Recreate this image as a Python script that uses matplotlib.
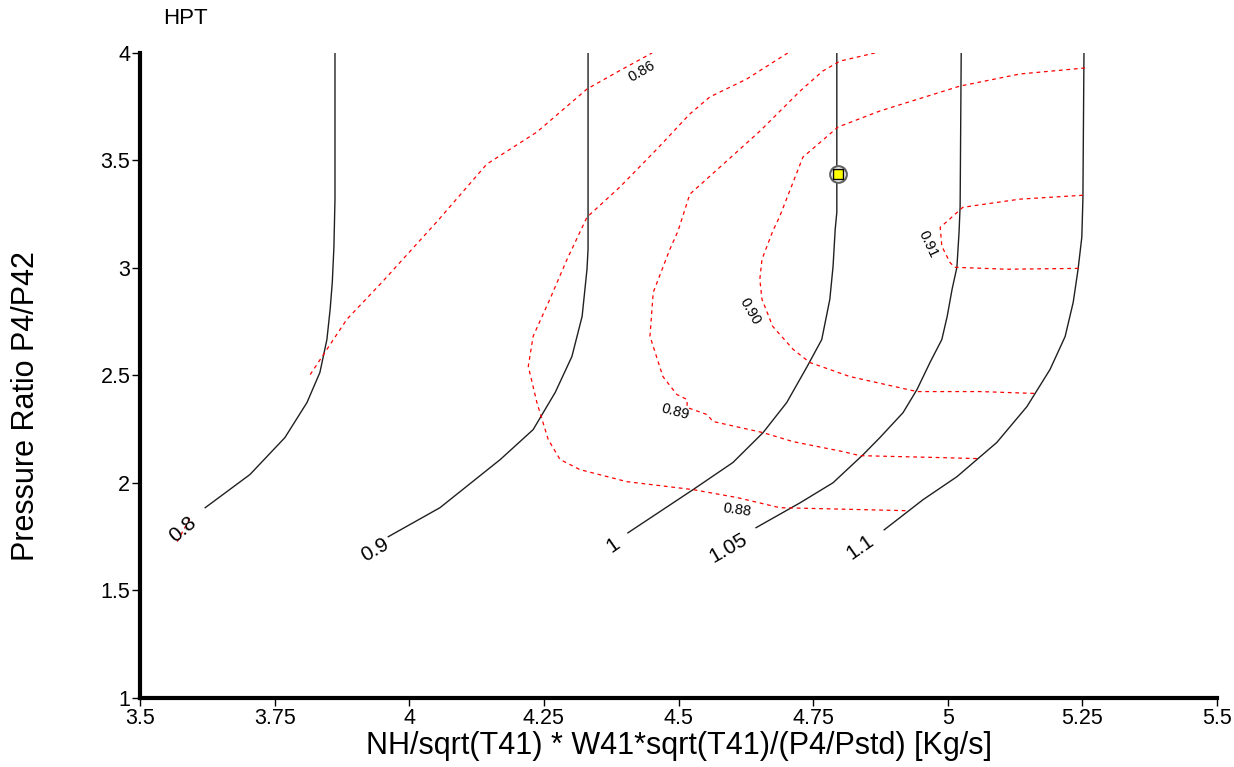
import matplotlib
matplotlib.use("Agg")
import matplotlib.pyplot as plt

plt.rcParams['font.family'] = ['Liberation Sans', 'DejaVu Sans']

# Speed lines (corrected speed), x = flow parameter, y = pressure ratio
SPEED_LINES = {
    "0.8": ([3.621, 3.704, 3.769, 3.810, 3.834, 3.847, 3.853, 3.857, 3.860, 3.862, 3.862],
            [1.885, 2.039, 2.211, 2.374, 2.514, 2.667, 2.807, 2.933, 3.096, 3.319, 4.0]),
    "0.9": ([3.961, 4.057, 4.169, 4.230, 4.271, 4.302, 4.321, 4.330, 4.332, 4.332],
            [1.750, 1.885, 2.109, 2.248, 2.421, 2.588, 2.775, 2.993, 3.087, 4.0]),
    "1": ([4.406, 4.527, 4.601, 4.657, 4.701, 4.739, 4.766, 4.781, 4.787, 4.791, 4.794, 4.794],
          [1.768, 1.969, 2.095, 2.234, 2.374, 2.542, 2.667, 2.854, 3.007, 3.180, 3.259, 4.0]),
    "1.05": ([4.644, 4.726, 4.787, 4.843, 4.874, 4.917, 4.943, 4.967, 4.989, 4.999, 5.008,
              5.017, 5.021, 5.023, 5.025],
             [1.792, 1.908, 2.001, 2.132, 2.211, 2.327, 2.435, 2.560, 2.667, 2.775, 2.900,
              3.003, 3.166, 3.287, 4.0]),
    "1.1": ([4.882, 4.954, 5.017, 5.091, 5.147, 5.190, 5.218, 5.233, 5.242, 5.249, 5.251, 5.253],
            [1.782, 1.922, 2.029, 2.188, 2.355, 2.528, 2.681, 2.840, 2.993, 3.143, 3.320, 4.0]),
}
SPEED_LABEL_POS = {
    "0.8": (3.580, 1.782, 40),
    "0.9": (3.936, 1.689, 30),
    "1": (4.378, 1.713, 35),
    "1.05": (4.592, 1.699, 30),
    "1.1": (4.837, 1.703, 35),
}

# Efficiency contours
EFF_LINES = {
    "0.85": ([3.569, 3.593], [1.727, 1.838]),
    "0.86": ([3.816, 3.884, 3.951, 4.052, 4.144, 4.237, 4.330, 4.386, 4.451],
             [2.504, 2.761, 2.938, 3.217, 3.483, 3.632, 3.832, 3.911, 4.0]),
    "0.88": ([4.703, 4.627, 4.558, 4.521, 4.460, 4.391, 4.330, 4.293, 4.261, 4.230, 4.221,
              4.237, 4.258, 4.280, 4.317, 4.404, 4.527, 4.609, 4.688, 4.924],
             [4.0, 3.879, 3.795, 3.716, 3.553, 3.376, 3.236, 3.040, 2.854, 2.682, 2.542,
              2.374, 2.202, 2.109, 2.062, 2.006, 1.969, 1.932, 1.885, 1.871]),
    "0.89": ([4.865, 4.800, 4.768, 4.726, 4.651, 4.577, 4.521, 4.499, 4.484, 4.453, 4.447,
              4.471, 4.497, 4.516, 4.516, 4.553, 4.564, 4.614, 4.657, 4.713, 4.805, 4.837,
              4.986, 5.060],
             [4.0, 3.962, 3.916, 3.823, 3.636, 3.469, 3.343, 3.171, 3.087, 2.886, 2.682,
              2.495, 2.411, 2.388, 2.351, 2.318, 2.286, 2.258, 2.234, 2.192, 2.146, 2.127,
              2.118, 2.113]),
    "0.90": ([5.255, 5.134, 5.023, 4.874, 4.796, 4.731, 4.688, 4.675, 4.655, 4.651, 4.655,
              4.675, 4.713, 4.744, 4.818, 4.943, 5.060, 5.166],
             [3.930, 3.902, 3.846, 3.730, 3.655, 3.515, 3.240, 3.171, 3.040, 2.947, 2.854,
              2.728, 2.621, 2.560, 2.495, 2.425, 2.425, 2.416]),
    "0.91": ([5.251, 5.134, 5.028, 4.999, 4.986, 4.989, 5.004, 5.013, 5.110, 5.246],
             [3.338, 3.320, 3.282, 3.217, 3.189, 3.101, 3.026, 3.003, 2.994, 2.998]),
}
EFF_LABEL_POS = {
    "0.86": (4.432, 3.916, 30),
    "0.88": (4.609, 1.876, -8),
    "0.89": (4.494, 2.332, -15),
    "0.90": (4.633, 2.798, -60),
    "0.91": (4.963, 3.110, -65),
}

OP_POINT = (4.796, 3.436)

X_TICKS = [3.5, 3.75, 4, 4.25, 4.5, 4.75, 5, 5.25, 5.5]
X_TICKLABELS = ["3.5", "3.75", "4", "4.25", "4.5", "4.75", "5", "5.25", "5.5"]
Y_TICKS = [1, 1.5, 2, 2.5, 3, 3.5, 4]
Y_TICKLABELS = ["1", "1.5", "2", "2.5", "3", "3.5", "4"]

fig = plt.figure(figsize=(12.34, 7.67), dpi=100)
ax = fig.add_axes([0.1135, 0.09, 0.8727, 0.841])

for name, (xs, ys) in SPEED_LINES.items():
    ax.plot(xs, ys, color="#202020", linewidth=1.0)
for name, (x, y, rot) in SPEED_LABEL_POS.items():
    ax.text(x, y, name, fontsize=15, rotation=rot, ha="center", va="center")

for name, (xs, ys) in EFF_LINES.items():
    ax.plot(xs, ys, color="red", linewidth=0.9, dashes=(3, 3))
for name, (x, y, rot) in EFF_LABEL_POS.items():
    ax.text(x, y, name, fontsize=10.5, rotation=rot, ha="center", va="center")

# operating point
ax.plot(*OP_POINT, marker="o", markersize=12, markerfacecolor="white",
        markeredgecolor="#606060", markeredgewidth=1.5, zorder=5)
ax.plot(*OP_POINT, marker="s", markersize=7, markerfacecolor="yellow",
        markeredgecolor="black", markeredgewidth=1.0, zorder=6)

ax.set_xlim(3.5, 5.5)
ax.set_ylim(1, 4)
ax.set_xticks(X_TICKS)
ax.set_xticklabels(X_TICKLABELS)
ax.set_yticks(Y_TICKS)
ax.set_yticklabels(Y_TICKLABELS)
ax.tick_params(direction="out", length=6, width=1, labelsize=15.5, pad=1)

for side in ("top", "right"):
    ax.spines[side].set_visible(False)
for side in ("left", "bottom"):
    ax.spines[side].set_linewidth(3)

ax.set_xlabel("NH/sqrt(T41) * W41*sqrt(T41)/(P4/Pstd) [Kg/s]", fontsize=22, labelpad=2)
ax.set_ylabel("Pressure Ratio P4/P42", fontsize=22)
ax.yaxis.set_label_coords(-0.092, 0.453)

fig.text(0.150, 0.9765, "HPT", fontsize=16, ha="center", va="center")

fig.savefig("out.png", dpi=100)
